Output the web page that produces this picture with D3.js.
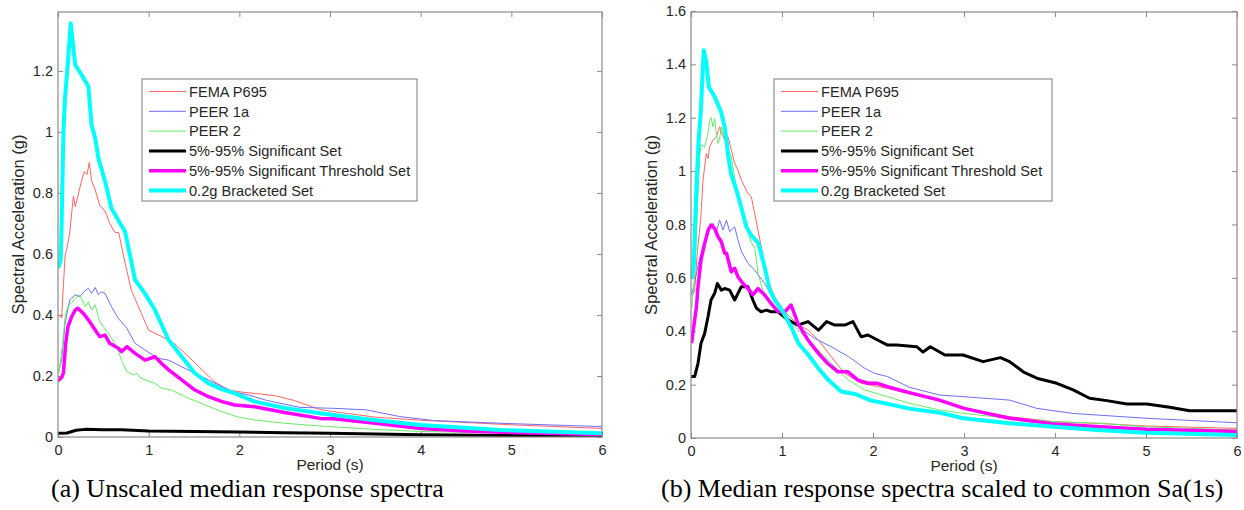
<!DOCTYPE html>
<html>
<head>
<meta charset="utf-8">
<script src="https://cdn.jsdelivr.net/npm/d3@7"></script>
<style>
  html, body { margin: 0; padding: 0; background: #fff; }
  svg { display: block; }
</style>
</head>
<body>
<svg id="chart" width="1244" height="510"></svg>
<script>
// ---------------- DATA ----------------
const seriesNames = ["FEMA P695", "PEER 1a", "PEER 2", "5%-95% Significant Set", "5%-95% Significant Threshold Set", "0.2g Bracketed Set"];
const xTicks = [0, 1, 2, 3, 4, 5, 6];
const yTicksA = [0, 0.2, 0.4, 0.6, 0.8, 1, 1.2];
const yTicksB = [0, 0.2, 0.4, 0.6, 0.8, 1, 1.2, 1.4, 1.6];
const captionA = "(a) Unscaled median response spectra";
const captionB = "(b) Median response spectra scaled to common Sa(1s)";

// Panel (a): unscaled  [period (s), Sa (g)]
const femaA = [[0.01,0.40],[0.04,0.39],[0.06,0.50],[0.08,0.60],[0.1,0.62],[0.13,0.67],[0.17,0.79],[0.19,0.755],[0.22,0.79],[0.26,0.84],[0.29,0.87],[0.32,0.86],[0.345,0.90],[0.37,0.84],[0.41,0.81],[0.46,0.76],[0.52,0.74],[0.57,0.70],[0.63,0.67],[0.67,0.67],[0.74,0.57],[0.81,0.48],[0.92,0.405],[1.0,0.35],[1.14,0.33],[1.29,0.305],[1.44,0.263],[1.59,0.22],[1.73,0.18],[1.88,0.154],[2.03,0.147],[2.17,0.143],[2.4,0.135],[2.6,0.12],[2.89,0.09],[3.04,0.083],[3.5,0.065],[4.0,0.055],[4.33,0.05],[5.0,0.04],[6.0,0.028]];
const peer1aA = [[0.01,0.22],[0.04,0.25],[0.077,0.37],[0.13,0.45],[0.19,0.466],[0.24,0.46],[0.30,0.48],[0.335,0.487],[0.37,0.471],[0.41,0.49],[0.445,0.466],[0.48,0.476],[0.52,0.47],[0.59,0.427],[0.665,0.389],[0.76,0.356],[0.85,0.307],[0.96,0.285],[1.1,0.258],[1.22,0.252],[1.365,0.23],[1.51,0.209],[1.66,0.187],[1.81,0.165],[1.95,0.147],[2.1,0.138],[2.3,0.12],[2.67,0.097],[3.04,0.094],[3.4,0.089],[3.77,0.067],[4.14,0.054],[4.88,0.045],[6.0,0.034]];
const peer2A = [[0.01,0.21],[0.05,0.30],[0.08,0.40],[0.11,0.427],[0.15,0.44],[0.19,0.455],[0.24,0.466],[0.30,0.427],[0.335,0.444],[0.37,0.416],[0.41,0.433],[0.46,0.378],[0.555,0.34],[0.65,0.296],[0.70,0.252],[0.76,0.214],[0.83,0.203],[0.87,0.209],[0.92,0.192],[1.07,0.176],[1.14,0.16],[1.25,0.154],[1.44,0.127],[1.62,0.105],[1.81,0.083],[1.99,0.065],[2.17,0.056],[2.5,0.045],[2.89,0.036],[3.5,0.025],[4.0,0.018],[5.0,0.013],[6.0,0.01]];
const sigA = [[0.01,0.012],[0.1,0.013],[0.2,0.022],[0.3,0.025],[0.5,0.024],[0.7,0.024],[1.0,0.02],[1.5,0.018],[2.0,0.016],[2.5,0.014],[3.0,0.012],[3.5,0.01],[4.0,0.007],[5.0,0.005],[6.0,0.004]];
const sigThrA = [[0.01,0.187],[0.04,0.195],[0.06,0.21],[0.085,0.307],[0.11,0.362],[0.15,0.394],[0.19,0.416],[0.22,0.422],[0.28,0.405],[0.335,0.384],[0.41,0.351],[0.46,0.329],[0.52,0.334],[0.57,0.307],[0.665,0.291],[0.70,0.28],[0.76,0.296],[0.85,0.274],[0.96,0.252],[1.07,0.263],[1.14,0.242],[1.22,0.22],[1.365,0.187],[1.51,0.154],[1.66,0.132],[1.81,0.116],[1.95,0.105],[2.17,0.099],[2.5,0.08],[2.89,0.061],[3.04,0.06],[3.5,0.045],[4.0,0.028],[4.5,0.02],[5.0,0.015],[6.0,0.008]];
const brackA = [[0.01,0.56],[0.03,0.58],[0.04,0.70],[0.06,1.0],[0.077,1.11],[0.11,1.23],[0.14,1.356],[0.16,1.30],[0.19,1.22],[0.26,1.187],[0.335,1.149],[0.37,1.023],[0.41,0.98],[0.445,0.915],[0.52,0.837],[0.59,0.75],[0.666,0.71],[0.74,0.673],[0.85,0.515],[0.96,0.47],[1.07,0.416],[1.22,0.318],[1.365,0.263],[1.51,0.209],[1.66,0.176],[1.81,0.156],[1.95,0.143],[2.17,0.116],[2.5,0.095],[2.89,0.078],[3.04,0.072],[3.5,0.055],[4.0,0.039],[4.88,0.023],[6.0,0.012]];

// Panel (b): scaled to common Sa(1s)
const femaB = [[0.01,0.535],[0.04,0.55],[0.07,0.70],[0.106,0.816],[0.132,0.966],[0.168,1.066],[0.187,1.047],[0.205,1.091],[0.242,1.116],[0.278,1.128],[0.315,1.166],[0.333,1.147],[0.37,1.116],[0.407,1.128],[0.443,1.079],[0.48,1.029],[0.516,1.004],[0.553,0.966],[0.59,0.941],[0.626,0.916],[0.663,0.904],[0.70,0.841],[0.736,0.779],[0.773,0.716],[0.83,0.604],[0.92,0.529],[1.03,0.473],[1.18,0.423],[1.29,0.404],[1.4,0.367],[1.54,0.305],[1.69,0.242],[1.87,0.205],[2.16,0.186],[2.4,0.165],[2.73,0.142],[2.99,0.111],[3.5,0.08],[3.99,0.061],[4.46,0.055],[5.0,0.045],[6.0,0.036]];
const peer1aB = [[0.01,0.54],[0.05,0.60],[0.1,0.68],[0.17,0.742],[0.205,0.79],[0.242,0.804],[0.278,0.773],[0.315,0.816],[0.352,0.779],[0.39,0.816],[0.425,0.773],[0.48,0.791],[0.516,0.742],[0.553,0.70],[0.626,0.654],[0.70,0.629],[0.81,0.579],[0.92,0.517],[1.03,0.461],[1.18,0.417],[1.36,0.373],[1.54,0.342],[1.73,0.305],[1.91,0.261],[2.02,0.242],[2.16,0.23],[2.4,0.19],[2.73,0.161],[2.99,0.155],[3.5,0.142],[3.8,0.111],[4.2,0.092],[5.0,0.074],[6.0,0.057]];
const peer2B = [[0.01,0.49],[0.04,0.60],[0.07,0.85],[0.095,1.05],[0.11,1.10],[0.15,1.09],[0.187,1.141],[0.205,1.191],[0.22,1.20],[0.242,1.166],[0.26,1.197],[0.278,1.14],[0.297,1.104],[0.315,1.12],[0.333,1.166],[0.37,1.128],[0.407,1.079],[0.443,1.054],[0.5,0.93],[0.55,0.87],[0.59,0.816],[0.663,0.73],[0.70,0.716],[0.736,0.617],[0.81,0.529],[0.99,0.473],[1.18,0.404],[1.36,0.342],[1.54,0.28],[1.73,0.217],[1.91,0.18],[2.16,0.155],[2.4,0.13],[2.73,0.105],[3.0,0.092],[3.5,0.074],[4.0,0.061],[4.5,0.055],[5.0,0.042],[6.0,0.03]];
const sigB = [[0.01,0.23],[0.04,0.23],[0.077,0.28],[0.11,0.355],[0.15,0.392],[0.187,0.454],[0.22,0.517],[0.26,0.542],[0.29,0.579],[0.333,0.554],[0.37,0.56],[0.425,0.554],[0.48,0.517],[0.516,0.542],[0.553,0.567],[0.626,0.567],[0.68,0.517],[0.72,0.486],[0.77,0.473],[0.83,0.479],[0.88,0.473],[0.956,0.473],[1.066,0.442],[1.176,0.423],[1.286,0.436],[1.4,0.404],[1.49,0.436],[1.58,0.423],[1.69,0.423],[1.78,0.436],[1.87,0.379],[1.945,0.386],[2.05,0.367],[2.16,0.348],[2.26,0.348],[2.48,0.342],[2.55,0.322],[2.63,0.342],[2.79,0.311],[2.99,0.311],[3.21,0.286],[3.4,0.301],[3.5,0.286],[3.65,0.248],[3.8,0.224],[4.02,0.205],[4.2,0.18],[4.38,0.149],[4.57,0.14],[4.79,0.127],[5.01,0.127],[5.26,0.115],[5.48,0.102],[6.0,0.102]];
const sigThrB = [[0.01,0.361],[0.02,0.392],[0.06,0.492],[0.077,0.567],[0.11,0.667],[0.15,0.729],[0.19,0.78],[0.22,0.798],[0.26,0.785],[0.297,0.754],[0.333,0.735],[0.37,0.692],[0.39,0.692],[0.443,0.623],[0.48,0.636],[0.516,0.604],[0.571,0.579],[0.626,0.56],[0.68,0.536],[0.736,0.56],[0.81,0.536],[0.88,0.504],[0.956,0.473],[1.03,0.473],[1.10,0.498],[1.176,0.429],[1.286,0.367],[1.4,0.317],[1.5,0.28],[1.615,0.248],[1.725,0.248],[1.835,0.217],[1.945,0.205],[2.05,0.205],[2.16,0.192],[2.4,0.17],[2.73,0.142],[3.0,0.111],[3.5,0.074],[4.0,0.052],[4.5,0.042],[5.0,0.033],[6.0,0.024]];
const brackB = [[0.01,0.604],[0.03,0.65],[0.06,0.95],[0.085,1.12],[0.107,1.22],[0.14,1.453],[0.17,1.403],[0.195,1.316],[0.26,1.278],[0.33,1.222],[0.37,1.166],[0.39,1.116],[0.41,1.054],[0.44,0.99],[0.50,0.929],[0.55,0.866],[0.61,0.79],[0.66,0.76],[0.74,0.73],[0.81,0.64],[0.865,0.554],[0.92,0.517],[1.01,0.473],[1.10,0.417],[1.18,0.355],[1.29,0.311],[1.40,0.261],[1.51,0.217],[1.65,0.174],[1.80,0.165],[1.98,0.14],[2.16,0.128],[2.4,0.11],[2.73,0.095],[2.99,0.074],[3.5,0.055],[3.99,0.042],[4.46,0.03],[5.0,0.02],[6.0,0.011]];

// ---------------- STYLE ----------------
const colors = ["#ff6464", "#6e6eff", "#66ea66", "#000000", "#ff00ff", "#00ffff"];
const widths = [1, 1, 1, 3, 3.5, 4];
const fontSans = "'Liberation Sans', Arial, Helvetica, sans-serif";
const fontSerif = "'Liberation Serif', 'Times New Roman', serif";

const svg = d3.select("#chart");

function panel(cfg) {
  const {x0, x1, y0, y1, yMax, yTicks, series, legend, caption, id, ylabX} = cfg;
  const x = d3.scaleLinear().domain([0, 6]).range([x0, x1]);
  const y = d3.scaleLinear().domain([0, yMax]).range([y1, y0]);
  const g = svg.append("g");

  g.append("clipPath").attr("id", "clip" + id)
    .append("rect").attr("x", x0).attr("y", y0).attr("width", x1 - x0).attr("height", y1 - y0);

  const fmt = d => String(+d.toFixed(1));
  const axCol = "#262626";
  const styleAxis = sel => {
    sel.select(".domain").remove();
    sel.selectAll(".tick line").attr("stroke", "#8a8a8a");
    sel.selectAll(".tick text").attr("fill", axCol).style("font-family", fontSans).style("font-size", "14.5px");
  };
  g.append("g").attr("transform", `translate(0,${y1})`)
    .call(d3.axisBottom(x).tickValues(xTicks).tickSize(-5).tickPadding(8).tickFormat(fmt)).call(styleAxis);
  g.append("g").attr("transform", `translate(0,${y0})`)
    .call(d3.axisTop(x).tickValues(xTicks).tickSize(-5).tickFormat("")).call(styleAxis);
  g.append("g").attr("transform", `translate(${x0},0)`)
    .call(d3.axisLeft(y).tickValues(yTicks).tickSize(-5).tickPadding(5).tickFormat(fmt)).call(styleAxis);
  g.append("g").attr("transform", `translate(${x1},0)`)
    .call(d3.axisRight(y).tickValues(yTicks).tickSize(-5).tickFormat("")).call(styleAxis);

  const line = d3.line().x(d => x(d[0])).y(d => y(d[1]));
  const lines = g.append("g").attr("clip-path", `url(#clip${id})`);
  series.forEach((s, i) => {
    lines.append("path").datum(s).attr("d", line)
      .attr("fill", "none").attr("stroke", colors[i]).attr("stroke-width", widths[i])
      .attr("stroke-linejoin", "round").attr("stroke-linecap", "round");
  });

  g.append("rect").attr("x", x0).attr("y", y0).attr("width", x1 - x0).attr("height", y1 - y0)
    .attr("fill", "none").attr("stroke", "#8a8a8a").attr("stroke-width", 1.2);

  // legend
  const lg = g.append("g");
  lg.append("rect").attr("x", legend.x).attr("y", legend.y).attr("width", legend.w).attr("height", legend.h)
    .attr("fill", "#fff").attr("stroke", "#7a7a7a").attr("stroke-width", 1);
  seriesNames.forEach((name, i) => {
    const yy = legend.y + 12.5 + i * 19.8;
    lg.append("line").attr("x1", legend.x + 7).attr("x2", legend.x + 44).attr("y1", yy).attr("y2", yy)
      .attr("stroke", colors[i]).attr("stroke-width", widths[i]);
    lg.append("text").attr("x", legend.x + 47).attr("y", yy).attr("dy", "0.36em")
      .style("font-family", fontSans).style("font-size", "14.6px").attr("fill", axCol).text(name);
  });

  // axis titles
  g.append("text").attr("x", (x0 + x1) / 2).attr("y", y1 + 33)
    .attr("text-anchor", "middle").style("font-family", fontSans).style("font-size", "15.5px").attr("fill", axCol)
    .text("Period (s)");
  g.append("text").attr("transform", `translate(${ylabX},${(y0 + y1) / 2}) rotate(-90)`)
    .attr("text-anchor", "middle").style("font-family", fontSans).style("font-size", "16.5px").attr("fill", axCol)
    .text("Spectral Acceleration (g)");
  g.append("text").attr("x", cfg.capX).attr("y", 497)
    .style("font-family", fontSerif).style("font-size", "26px").attr("fill", "#000")
    .text(caption);
}

panel({
  id: "a", x0: 58, x1: 602, y0: 12, y1: 437, yMax: 1.393, yTicks: yTicksA,
  series: [femaA, peer1aA, peer2A, sigA, sigThrA, brackA],
  legend: {x: 142, y: 79, w: 275, h: 122},
  caption: captionA, capX: 51, ylabX: 24
});
panel({
  id: "b", x0: 691, x1: 1237, y0: 12, y1: 438, yMax: 1.596, yTicks: yTicksB,
  series: [femaB, peer1aB, peer2B, sigB, sigThrB, brackB],
  legend: {x: 774, y: 79, w: 278, h: 122},
  caption: captionB, capX: 661, ylabX: 657
});
</script>
</body>
</html>
